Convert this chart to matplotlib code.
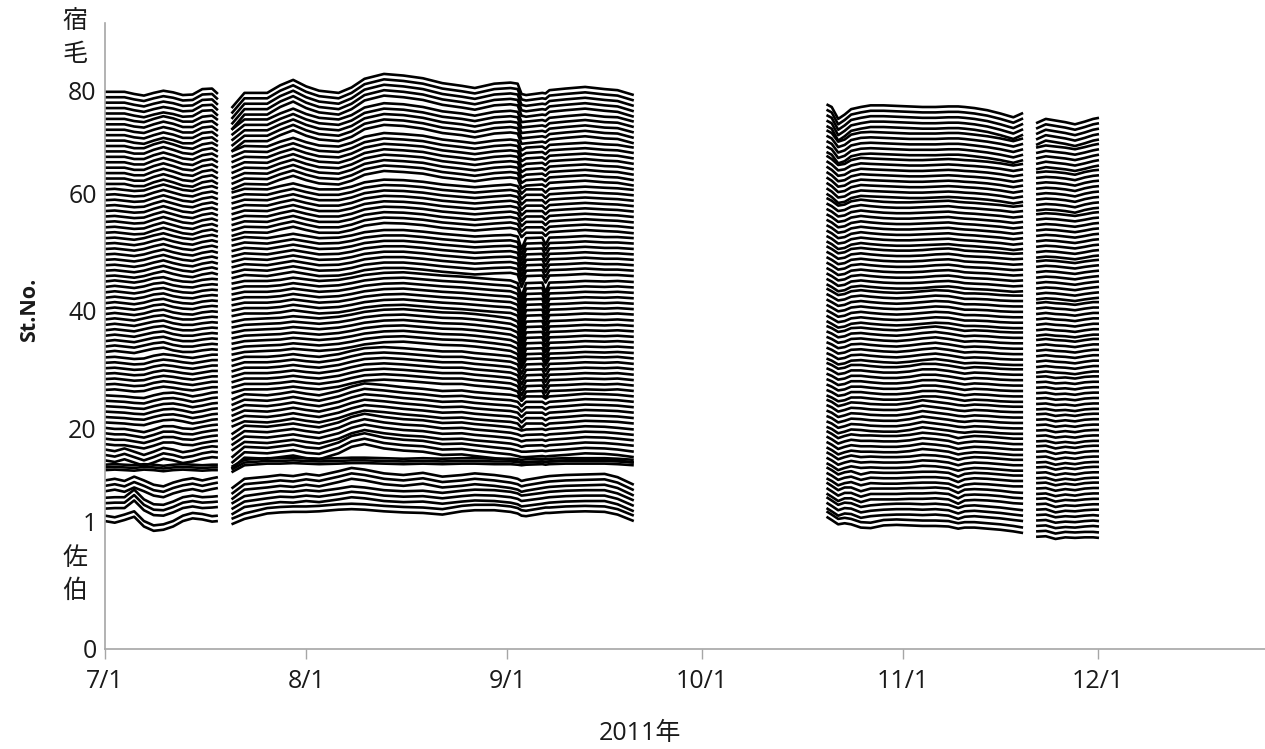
import matplotlib
matplotlib.use("Agg")
import matplotlib.pyplot as plt
import numpy as np

plt.rcParams['font.family'] = ['Open Sans', 'Noto Sans CJK JP', 'DejaVu Sans']

# ---------------- data ----------------
# stations along the channel, 1 = 佐伯 side, 80 = 宿毛 side
stations = list(range(1, 81))

# station groups sharing a common anomaly profile (inclusive ranges)
station_groups = [(1, 2), (3, 5), (6, 8), (9, 11), (12, 14), (15, 18), (19, 24),
                  (25, 31), (32, 38), (39, 45), (46, 53), (54, 62), (63, 70),
                  (71, 75), (76, 80)]

# x axis: days counted from 2011-07-01
month_ticks = [0, 31, 62, 92, 123, 153]
month_labels = ['7/1', '8/1', '9/1', '10/1', '11/1', '12/1']

# y axis ticks (station scale) and their labels
station_ticks = [0, 23.34, 40.5, 62.27, 84.0, 102.86]
station_tick_labels = ['0', '1', '20', '40', '60', '80']

# ---- survey period 1: 7/1 - 7/18 (rows follow station_groups)
seg1_days = [0, 1.5, 3, 4.5, 6, 7.5, 9, 10.5, 12, 13.5, 15, 16.5, 17.4]
seg1_anom = [
    [-0.2, -0.5, 0.0, 0.6, -1.2, -2.0, -1.8, -1.2, -0.2, 0.3, 0.1, -0.3, -0.2],
    [0.1, 0.2, 0.2, 1.6, -0.2, -1.1, -1.2, -0.6, 0.2, 0.5, 0.2, 0.3, 0.4],
    [0.3, 0.6, 0.2, 1.0, 0.3, -0.5, -0.8, -0.1, 0.4, 0.7, 0.3, 0.7, 0.9],
    [0.7, 0.8, 0.7, 0.6, 0.8, 0.7, 0.5, 0.7, 0.8, 0.7, 0.6, 0.7, 0.7],
    [0.0, -0.3, 0.2, -0.4, -1.0, -0.4, 0.3, 0.0, -0.5, -0.2, 0.3, 0.6, 0.5],
    [0.0, -0.2, -0.2, -0.5, -0.8, -0.3, 0.3, 0.3, -0.1, -0.2, 0.2, 0.5, 0.6],
    [0.0, -0.1, -0.2, -0.4, -0.5, 0.0, 0.4, 0.5, 0.2, -0.2, 0.1, 0.5, 0.6],
    [0.0, 0.1, -0.1, -0.3, -0.2, 0.3, 0.6, 0.4, 0.1, -0.1, 0.2, 0.5, 0.5],
    [0.0, 0.2, 0.0, -0.2, 0.2, 0.6, 0.8, 0.3, 0.0, 0.0, 0.3, 0.5, 0.4],
    [0.0, 0.2, 0.0, -0.2, 0.1, 0.6, 0.8, 0.3, 0.0, -0.1, 0.3, 0.5, 0.4],
    [0.0, 0.1, -0.1, -0.3, 0.0, 0.5, 0.9, 0.4, 0.0, -0.2, 0.3, 0.6, 0.3],
    [0.0, 0.1, -0.1, -0.3, -0.2, 0.4, 0.9, 0.4, -0.1, -0.3, 0.3, 0.6, 0.2],
    [0.0, 0.0, 0.0, -0.4, -0.4, 0.3, 0.8, 0.3, -0.3, -0.5, 0.3, 0.6, 0.0],
    [0.0, 0.0, 0.0, -0.4, -0.6, 0.0, 0.5, 0.1, -0.5, -0.5, 0.4, 0.6, -0.2],
    [0.0, 0.0, 0.0, -0.4, -0.7, -0.2, 0.2, -0.1, -0.6, -0.5, 0.5, 0.6, -0.4],
]

# ---- survey period 2: 7/21 - 9/20
seg2_days = [19.5, 21.5, 25, 27, 29, 31, 33, 36, 38, 40, 43, 46, 49, 52, 55,
             57, 60, 62.5, 63.6, 64.2, 64.9, 67.4, 67.9, 68.5, 71, 74, 77, 79, 81.5]
seg2_anom = [
    [-0.8, 0.2, 1.2, 1.4, 1.5, 1.5, 1.6, 1.9, 2.0, 1.9, 1.6, 1.4, 1.3, 1.0, 1.6,
     1.8, 1.8, 1.5, 1.2, 0.8, 0.7, 1.2, 1.3, 1.3, 1.5, 1.6, 1.5, 1.0, -0.2],
    [-1.0, 0.4, 1.0, 1.3, 1.2, 1.5, 1.3, 1.8, 2.2, 2.0, 1.5, 1.3, 1.4, 1.0, 1.4,
     1.6, 1.5, 1.2, 0.9, 0.5, 0.6, 1.0, 1.1, 1.2, 1.4, 1.5, 1.5, 0.9, -0.4],
    [-1.2, 0.6, 1.0, 1.3, 1.1, 1.5, 1.2, 2.0, 2.6, 2.3, 1.6, 1.3, 1.7, 1.0, 1.3,
     1.6, 1.3, 0.9, 0.6, 0.2, 0.4, 0.9, 1.0, 1.1, 1.3, 1.4, 1.5, 0.9, -0.5],
    [0.3, 1.6, 1.9, 1.9, 2.0, 1.9, 1.8, 1.9, 2.0, 2.0, 1.9, 1.8, 1.9, 1.8, 1.9,
     1.9, 1.8, 1.8, 1.7, 1.6, 1.7, 1.8, 1.7, 1.8, 1.9, 1.9, 1.9, 1.8, 1.6],
    [-1.5, 0.5, 0.3, 0.6, 0.9, 0.4, 0.2, 1.3, 2.5, 3.0, 2.2, 1.8, 1.6, 1.0, 1.1,
     0.8, 0.4, 0.1, -0.2, -0.4, -0.4, -0.2, -0.3, -0.2, 0.0, 0.3, 0.2, 0.0, -0.4],
    [-1.2, 0.4, 0.2, 0.5, 0.8, 0.4, 0.1, 1.0, 2.0, 2.6, 2.0, 1.6, 1.4, 0.9, 1.0,
     0.7, 0.4, 0.1, -0.2, -0.5, -0.3, -0.2, -0.4, -0.2, 0.0, 0.3, 0.2, 0.0, -0.3],
    [-0.8, 0.2, 0.0, 0.3, 0.7, 0.3, 0.0, 0.8, 1.6, 2.2, 1.9, 1.5, 1.2, 0.8, 0.9,
     0.6, 0.3, 0.1, -0.2, -1.0, -0.2, -0.2, -0.6, -0.2, 0.0, 0.3, 0.2, 0.1, -0.2],
    [-0.6, 0.1, 0.1, 0.3, 0.6, 0.3, 0.1, 0.6, 1.2, 1.7, 1.9, 1.7, 1.4, 1.1, 1.1,
     0.8, 0.5, 0.2, -0.3, -2.0, -0.3, -0.2, -1.5, -0.2, -0.1, 0.1, 0.0, 0.1, -0.2],
    [-0.5, 0.0, 0.2, 0.3, 0.6, 0.4, 0.2, 0.5, 0.9, 1.4, 1.8, 1.9, 1.6, 1.3, 1.2,
     1.0, 0.6, 0.2, -0.4, -2.8, -0.4, -0.3, -2.0, -0.3, -0.2, 0.0, -0.1, 0.0, -0.2],
    [-0.4, 0.1, 0.1, 0.3, 0.7, 0.4, 0.1, 0.3, 0.7, 1.2, 1.6, 1.7, 1.4, 1.1, 0.9,
     0.7, 0.4, 0.2, -0.3, -2.8, -0.3, -0.2, -2.0, -0.2, -0.1, 0.1, 0.0, 0.1, -0.1],
    [-0.4, 0.2, 0.0, 0.4, 0.8, 0.4, 0.0, 0.1, 0.5, 1.1, 1.5, 1.5, 1.2, 0.8, 0.5,
     0.3, 0.5, 0.6, 0.3, -2.0, 0.0, 0.1, -1.2, 0.1, 0.2, 0.4, 0.2, 0.2, 0.0],
    [-0.6, 0.1, 0.0, 0.6, 1.1, 0.5, 0.0, 0.0, 0.5, 1.3, 1.8, 1.7, 1.4, 0.9, 0.6,
     0.4, 0.7, 0.9, 0.6, -0.8, 0.0, 0.0, -0.6, 0.1, 0.3, 0.5, 0.3, 0.2, -0.1],
    [-1.0, 0.0, -0.1, 0.8, 1.5, 0.7, 0.1, -0.1, 0.6, 1.7, 2.4, 2.2, 1.9, 1.2, 0.8,
     0.5, 1.0, 1.2, 1.0, -0.8, -0.3, -0.1, -0.5, 0.2, 0.4, 0.6, 0.3, 0.2, -0.3],
    [-2.0, -0.1, -0.1, 1.0, 1.9, 0.9, 0.2, -0.1, 0.7, 2.1, 2.9, 2.7, 2.2, 1.4, 1.0,
     0.6, 1.3, 1.5, 1.3, -0.6, -0.5, -0.2, -0.4, 0.2, 0.5, 0.8, 0.4, 0.3, -0.5],
    [-3.0, -0.2, -0.2, 1.2, 2.2, 1.0, 0.2, -0.2, 0.8, 2.4, 3.3, 3.0, 2.5, 1.6, 1.1,
     0.7, 1.5, 1.7, 1.5, -0.4, -0.6, -0.2, -0.3, 0.3, 0.6, 0.9, 0.5, 0.3, -0.6],
]

# ---- survey period 3: 10/20 - 11/19
seg3_days = [111.2, 112, 113, 114, 115, 116.5, 118, 120, 122, 124, 126, 128,
             130, 131.5, 132.5, 134, 136, 138, 140, 141.5]
seg3_anom = [
    [0.6, 0.0, -0.8, -0.6, -0.8, -1.4, -1.5, -1.0, -0.9, -1.0, -1.1, -1.1,
     -1.2, -1.6, -1.4, -1.4, -1.6, -1.8, -2.1, -2.4],
    [0.2, -0.4, -1.2, -0.8, -0.9, -1.6, -1.3, -1.1, -1.0, -1.0, -1.1, -1.0,
     -1.2, -1.8, -1.4, -1.3, -1.5, -1.7, -2.0, -2.2],
    [-0.1, -0.7, -1.5, -1.0, -1.0, -1.7, -1.2, -1.2, -1.2, -1.1, -1.1, -1.0,
     -1.2, -2.0, -1.4, -1.3, -1.4, -1.6, -1.9, -2.0],
    [-0.3, -0.8, -1.6, -1.2, -1.0, -1.6, -1.2, -1.3, -1.3, -1.2, -1.1, -1.1,
     -1.3, -2.0, -1.5, -1.3, -1.4, -1.6, -1.8, -1.8],
    [-0.5, -1.0, -1.8, -1.4, -1.1, -1.4, -1.3, -1.4, -1.4, -1.3, -1.0, -1.1,
     -1.4, -1.9, -1.6, -1.4, -1.5, -1.7, -1.9, -1.9],
    [-0.6, -1.1, -1.9, -1.5, -1.2, -1.4, -1.4, -1.5, -1.5, -1.3, -0.9, -1.1,
     -1.4, -1.9, -1.7, -1.5, -1.6, -1.8, -2.0, -2.0],
    [-0.8, -1.2, -2.0, -1.7, -1.3, -1.4, -1.6, -1.7, -1.7, -1.4, -0.9, -1.2,
     -1.5, -1.8, -1.9, -1.7, -1.8, -2.0, -2.1, -2.1],
    [-1.0, -1.4, -2.1, -1.9, -1.4, -1.4, -1.6, -1.8, -1.8, -1.6, -1.2, -1.2,
     -1.5, -1.8, -2.0, -1.8, -1.9, -2.1, -2.2, -2.2],
    [-1.2, -1.6, -2.3, -2.1, -1.6, -1.5, -1.7, -1.9, -2.0, -1.8, -1.5, -1.3,
     -1.6, -1.9, -2.1, -2.0, -2.1, -2.3, -2.4, -2.4],
    [-1.3, -1.8, -2.5, -2.3, -1.8, -1.6, -1.8, -2.0, -2.1, -2.0, -1.8, -1.6,
     -1.7, -2.0, -2.2, -2.2, -2.3, -2.5, -2.6, -2.6],
    [-1.5, -2.0, -2.8, -2.6, -2.0, -1.8, -2.0, -2.2, -2.3, -2.3, -2.2, -2.0,
     -1.9, -2.1, -2.3, -2.4, -2.5, -2.7, -2.9, -2.8],
    [-1.6, -2.1, -3.0, -2.8, -2.2, -1.9, -2.1, -2.3, -2.4, -2.4, -2.3, -2.2,
     -2.1, -2.3, -2.4, -2.5, -2.7, -2.9, -3.2, -3.0],
    [-1.8, -2.4, -3.5, -3.3, -2.6, -2.2, -2.3, -2.4, -2.5, -2.6, -2.6, -2.5,
     -2.4, -2.5, -2.6, -2.7, -2.9, -3.2, -3.6, -3.3],
    [-2.1, -2.6, -4.2, -3.8, -2.9, -2.5, -2.4, -2.5, -2.6, -2.7, -2.7, -2.7,
     -2.6, -2.6, -2.7, -2.9, -3.2, -3.6, -4.1, -3.6],
    [-2.3, -2.8, -5.0, -4.2, -3.2, -2.8, -2.5, -2.5, -2.6, -2.7, -2.8, -2.8,
     -2.7, -2.7, -2.8, -3.0, -3.4, -4.0, -4.7, -3.9],
]

# ---- survey period 4: 11/22 - 12/1
seg4_days = [143.5, 145, 146.5, 148, 149.5, 151, 152.3, 153.2]
seg4_anom = [
    [-3.1, -3.0, -3.5, -3.2, -3.3, -3.2, -3.2, -3.3],
    [-3.1, -3.0, -3.5, -3.3, -3.4, -3.2, -3.1, -3.2],
    [-3.1, -3.0, -3.6, -3.3, -3.4, -3.2, -3.1, -3.1],
    [-3.2, -3.1, -3.6, -3.3, -3.5, -3.2, -3.1, -3.1],
    [-3.3, -3.2, -3.7, -3.4, -3.6, -3.3, -3.2, -3.2],
    [-3.4, -3.3, -3.8, -3.5, -3.7, -3.4, -3.3, -3.3],
    [-3.5, -3.4, -3.8, -3.6, -3.8, -3.5, -3.4, -3.4],
    [-3.6, -3.5, -3.8, -3.7, -3.9, -3.6, -3.5, -3.5],
    [-3.8, -3.6, -3.8, -3.9, -4.1, -3.8, -3.6, -3.6],
    [-4.0, -3.8, -4.0, -4.1, -4.3, -4.0, -3.8, -3.8],
    [-4.3, -4.1, -4.2, -4.4, -4.6, -4.3, -4.1, -4.0],
    [-4.6, -4.4, -4.5, -4.7, -4.9, -4.6, -4.3, -4.2],
    [-4.9, -4.7, -4.8, -5.0, -5.3, -4.8, -4.5, -4.4],
    [-5.3, -4.9, -5.1, -5.3, -5.6, -5.2, -4.8, -4.6],
    [-5.8, -5.0, -5.3, -5.6, -6.0, -5.5, -5.0, -4.8],
]

# stations 9-11 run together as one flat trace during periods 1 and 2
merged_stations = [9, 10, 11]
merged_shift = [[0.5, 0.0, -0.5], [0.5, 0.0, -0.5], [0.0, 0.0, 0.0], [0.0, 0.0, 0.0]]

segments = [(seg1_days, seg1_anom), (seg2_days, seg2_anom),
            (seg3_days, seg3_anom), (seg4_days, seg4_anom)]

# ---------------- figure ----------------
W, H = 1265, 749
fig = plt.figure(figsize=(W / 100, H / 100), dpi=100)
ax_left, ax_bottom, ax_top = 105, 648.5, 23
ax = fig.add_axes([ax_left / W, 1 - ax_bottom / H, 1 - ax_left / W,
                   (ax_bottom - ax_top) / H])

station_base = 22.71   # y level of station 1 is station_base + 1


def group_of(k):
    for gi, (lo, hi) in enumerate(station_groups):
        if lo <= k <= hi:
            return gi
    return len(station_groups) - 1


for si, (days, anom) in enumerate(segments):
    for k in stations:
        vals = anom[group_of(k)]
        n = min(len(days), len(vals))
        shift = 0.0
        if k in merged_stations:
            shift = merged_shift[si][merged_stations.index(k)]
        y = k + station_base + np.asarray(vals[:n], dtype=float) + shift
        ax.plot(days[:n], y, color='black', lw=1.9, solid_joinstyle='round',
                solid_capstyle='butt')

px_per_day = (1097.7 - 105) / 153
ax.set_xlim(0, (W - ax_left) / px_per_day)
ax.set_ylim(0, (ax_bottom - ax_top) / 5.42)

text_col = '#1a1a1a'
ax.set_xticks(month_ticks)
ax.set_xticklabels(month_labels, fontsize=18, color=text_col)
ax.set_yticks(station_ticks)
ax.set_yticklabels(station_tick_labels, fontsize=18, color=text_col)

axis_grey = '#a6a6a6'
ax.tick_params(axis='x', direction='out', length=7, width=1, color=axis_grey, pad=8)
ax.tick_params(axis='y', length=0, pad=6)
for side in ('top', 'right'):
    ax.spines[side].set_visible(False)
for side in ('left', 'bottom'):
    ax.spines[side].set_color(axis_grey)
    ax.spines[side].set_linewidth(1.2)

# station names at the two ends of the channel
fig.text(75 / W, 1 - 38 / H, '宿\n毛', ha='center', va='center', fontsize=18,
         linespacing=1.45, color=text_col)
fig.text(75 / W, 1 - 575 / H, '佐\n伯', ha='center', va='center', fontsize=18,
         linespacing=1.45, color=text_col)

fig.text(640 / W, 1 - 733 / H, '2011年', ha='center', va='center', fontsize=18,
         color=text_col)
fig.text(30 / W, 1 - 310 / H, 'St.No.', ha='center', va='center', rotation=90,
         fontsize=15.5, fontweight='bold', color=text_col)

fig.savefig('out.png', dpi=100)
